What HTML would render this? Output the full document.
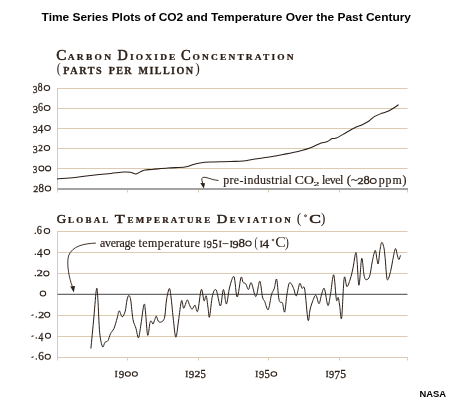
<!DOCTYPE html>
<html><head><meta charset="utf-8"><style>
html,body{margin:0;padding:0;background:#fff;}
body{width:450px;height:400px;overflow:hidden;}
svg{display:block;will-change:transform;}
</style></head><body>
<svg width="450" height="400" viewBox="0 0 450 400">
<rect width="450" height="400" fill="#fff"/>
<line x1="57.5" y1="88.5" x2="407.5" y2="88.5" stroke="#dccab2" stroke-width="1"/>
<line x1="57.5" y1="108.5" x2="407.5" y2="108.5" stroke="#dccab2" stroke-width="1"/>
<line x1="57.5" y1="128.5" x2="407.5" y2="128.5" stroke="#dccab2" stroke-width="1"/>
<line x1="57.5" y1="148.5" x2="407.5" y2="148.5" stroke="#dccab2" stroke-width="1"/>
<line x1="57.5" y1="168.5" x2="407.5" y2="168.5" stroke="#dccab2" stroke-width="1"/>
<line x1="57.5" y1="88" x2="57.5" y2="192.5" stroke="#dccbb0" stroke-width="1"/>
<line x1="57.5" y1="189" x2="408" y2="189" stroke="#a3a3a3" stroke-width="2"/>
<line x1="127.5" y1="190" x2="127.5" y2="192.5" stroke="#dccbb0" stroke-width="1"/>
<line x1="198.5" y1="190" x2="198.5" y2="192.5" stroke="#dccbb0" stroke-width="1"/>
<line x1="268.5" y1="190" x2="268.5" y2="192.5" stroke="#dccbb0" stroke-width="1"/>
<line x1="339.5" y1="190" x2="339.5" y2="192.5" stroke="#dccbb0" stroke-width="1"/>
<line x1="407.5" y1="190" x2="407.5" y2="192.5" stroke="#dccbb0" stroke-width="1"/>
<line x1="57.5" y1="231.5" x2="407.5" y2="231.5" stroke="#dccab2" stroke-width="1"/>
<line x1="57.5" y1="252.5" x2="407.5" y2="252.5" stroke="#dccab2" stroke-width="1"/>
<line x1="57.5" y1="273.5" x2="407.5" y2="273.5" stroke="#dccab2" stroke-width="1"/>
<line x1="57.5" y1="315.5" x2="407.5" y2="315.5" stroke="#dccab2" stroke-width="1"/>
<line x1="57.5" y1="336.5" x2="407.5" y2="336.5" stroke="#dccab2" stroke-width="1"/>
<line x1="57.5" y1="357.5" x2="407.5" y2="357.5" stroke="#dccab2" stroke-width="1"/>
<line x1="57.5" y1="231" x2="57.5" y2="360.5" stroke="#dccbb0" stroke-width="1"/>
<line x1="127.5" y1="357" x2="127.5" y2="360.5" stroke="#dccbb0" stroke-width="1"/>
<line x1="198.5" y1="357" x2="198.5" y2="360.5" stroke="#dccbb0" stroke-width="1"/>
<line x1="268.5" y1="357" x2="268.5" y2="360.5" stroke="#dccbb0" stroke-width="1"/>
<line x1="339.5" y1="357" x2="339.5" y2="360.5" stroke="#dccbb0" stroke-width="1"/>
<line x1="407.5" y1="357" x2="407.5" y2="360.5" stroke="#dccbb0" stroke-width="1"/>
<line x1="57.5" y1="294.35" x2="407.5" y2="294.35" stroke="#6a6a6a" stroke-width="1.2"/>
<path d="M57.0 179.0 C60.0 178.7 68.7 178.1 75.0 177.4 C81.3 176.7 89.0 175.7 95.0 175.0 C101.0 174.3 106.2 173.9 111.0 173.4 C115.8 172.9 120.7 172.2 124.0 172.0 C127.3 171.8 129.0 172.1 131.0 172.4 C133.0 172.7 134.3 174.2 136.0 174.0 C137.7 173.8 139.5 172.1 141.0 171.4 C142.5 170.7 143.2 170.3 145.0 170.0 C146.8 169.7 148.2 169.7 152.0 169.4 C155.8 169.1 162.5 168.4 168.0 168.0 C173.5 167.6 181.0 167.5 185.0 167.0 C189.0 166.5 189.5 165.7 192.0 165.0 C194.5 164.3 197.0 163.5 200.0 163.0 C203.0 162.5 205.0 162.2 210.0 162.0 C215.0 161.8 224.5 161.7 230.0 161.5 C235.5 161.3 238.8 161.4 243.0 161.0 C247.2 160.6 249.7 159.8 255.0 159.0 C260.3 158.2 268.7 157.1 275.0 156.0 C281.3 154.9 287.2 153.9 293.0 152.6 C298.8 151.3 305.4 149.6 310.0 148.0 C314.6 146.4 317.7 144.2 320.5 143.2 C323.3 142.2 324.9 142.6 326.9 141.8 C328.8 141.0 330.6 139.2 332.2 138.6 C333.8 138.0 334.1 139.0 336.4 138.0 C338.7 137.0 342.9 134.4 345.9 132.7 C348.9 131.0 351.5 129.4 354.3 128.0 C357.1 126.6 360.2 125.7 362.7 124.5 C365.1 123.3 367.1 122.3 369.0 121.0 C370.9 119.7 372.2 117.9 374.3 116.6 C376.4 115.3 379.4 114.2 381.7 113.3 C384.0 112.4 385.9 112.3 388.0 111.3 C390.1 110.3 392.6 108.6 394.4 107.5 C396.2 106.4 397.9 105.1 398.6 104.6" fill="none" stroke="#2a1e17" stroke-width="1.05" stroke-linejoin="round"/>
<path d="M90.9 348.5 C91.4 343.2 93.0 326.9 93.9 317.0 C94.8 307.1 95.8 291.9 96.5 289.0 C97.2 286.1 97.4 292.2 97.9 299.5 C98.4 306.8 98.9 324.9 99.7 332.8 C100.5 340.7 101.7 345.2 102.6 346.8 C103.5 348.4 104.0 343.4 104.9 342.4 C105.8 341.4 107.0 342.1 107.9 340.7 C108.8 339.2 109.5 335.8 110.5 333.7 C111.5 331.6 112.9 331.0 114.0 328.4 C115.1 325.8 116.3 320.9 117.2 318.0 C118.1 315.1 118.4 311.0 119.2 310.8 C120.0 310.6 121.2 316.7 122.2 316.8 C123.2 316.9 124.4 314.0 125.2 311.2 C126.0 308.4 126.4 302.6 127.0 300.0 C127.6 297.4 128.2 295.5 128.8 295.5 C129.4 295.5 130.0 296.0 130.7 300.0 C131.4 304.0 132.1 314.8 133.0 319.5 C133.9 324.2 135.1 325.4 136.0 328.5 C136.9 331.6 137.7 338.6 138.5 337.8 C139.3 337.1 140.1 329.6 141.0 324.0 C141.9 318.4 143.2 306.5 144.0 304.5 C144.8 302.5 144.9 306.9 145.5 312.0 C146.1 317.1 146.9 333.4 147.7 335.2 C148.4 336.9 149.4 324.8 150.0 322.5 C150.6 320.2 151.0 321.1 151.5 321.3 C152.0 321.6 152.4 324.3 153.0 324.0 C153.6 323.7 154.2 320.8 154.8 319.5 C155.4 318.2 155.7 315.9 156.3 316.2 C156.9 316.4 157.5 320.0 158.2 321.0 C158.9 322.0 159.6 322.3 160.5 322.2 C161.4 322.1 162.8 321.4 163.5 320.2 C164.2 319.0 164.5 318.4 165.0 315.0 C165.5 311.6 165.8 304.4 166.5 300.0 C167.2 295.6 168.6 289.0 169.3 288.5 C170.1 288.0 170.3 292.1 171.0 297.0 C171.7 301.9 172.4 311.3 173.2 318.0 C174.0 324.7 174.9 336.7 175.8 337.2 C176.7 337.7 177.6 327.1 178.5 321.0 C179.4 314.9 180.6 302.8 181.5 300.7 C182.4 298.6 182.8 308.3 183.7 308.2 C184.6 308.1 186.3 300.6 187.2 300.0 C188.1 299.4 188.5 302.9 189.3 304.5 C190.1 306.1 191.1 309.2 192.0 309.3 C192.9 309.4 194.1 304.9 195.0 305.2 C195.9 305.5 196.6 313.8 197.7 311.2 C198.8 308.6 200.2 291.2 201.3 289.5 C202.4 287.8 203.2 299.6 204.0 300.7 C204.8 301.8 205.5 294.7 206.2 295.8 C206.9 296.9 207.4 304.0 208.0 307.5 C208.6 311.0 208.8 319.0 209.5 317.0 C210.2 315.0 211.4 300.0 212.5 295.5 C213.6 291.0 214.9 288.2 216.2 290.0 C217.5 291.8 219.2 306.1 220.4 306.0 C221.6 305.9 222.4 289.8 223.4 289.5 C224.4 289.2 225.4 304.4 226.4 304.0 C227.4 303.6 228.4 291.6 229.7 287.0 C231.0 282.4 232.8 275.0 234.0 276.7 C235.2 278.4 236.0 296.9 237.2 297.0 C238.4 297.1 240.0 279.9 241.0 277.5 C242.0 275.1 242.2 281.2 243.0 282.3 C243.8 283.4 244.8 282.6 245.7 283.8 C246.6 285.0 247.6 289.7 248.5 289.5 C249.4 289.3 250.1 281.7 251.2 282.7 C252.3 283.7 254.1 293.6 255.0 295.5 C255.9 297.4 256.0 296.7 256.8 294.3 C257.6 291.9 258.9 280.8 259.8 281.2 C260.8 281.6 261.7 293.6 262.5 297.0 C263.3 300.4 263.8 299.4 264.7 301.5 C265.6 303.6 267.1 310.8 268.2 309.7 C269.3 308.6 270.5 298.2 271.5 294.7 C272.5 291.2 273.3 291.3 274.2 288.7 C275.1 286.1 275.9 277.7 276.6 279.2 C277.4 280.7 278.1 293.9 278.7 297.7 C279.3 301.5 279.6 301.3 280.2 302.2 C280.8 303.1 281.8 301.4 282.5 303.0 C283.2 304.6 283.9 313.5 284.7 312.0 C285.4 310.5 286.2 298.8 287.0 294.0 C287.8 289.2 288.4 284.8 289.2 283.2 C289.9 281.6 290.8 283.3 291.5 284.2 C292.2 285.1 292.9 286.8 293.7 288.7 C294.5 290.6 295.4 296.7 296.4 295.8 C297.4 294.9 298.8 284.8 299.7 283.5 C300.6 282.2 301.2 287.4 302.0 288.3 C302.8 289.2 303.7 283.9 304.7 289.2 C305.7 294.5 307.1 316.5 308.0 320.0 C308.9 323.5 309.3 312.8 310.0 310.0 C310.7 307.2 311.0 305.5 312.0 303.0 C313.0 300.5 314.6 295.1 315.8 295.2 C317.0 295.3 318.0 303.9 319.0 303.7 C320.0 303.5 320.8 296.5 321.7 294.0 C322.6 291.5 323.4 286.7 324.4 288.6 C325.4 290.5 326.9 304.7 327.9 305.5 C328.9 306.3 329.6 298.5 330.6 293.4 C331.6 288.3 332.7 273.8 333.7 274.8 C334.7 275.8 335.6 295.8 336.4 299.6 C337.1 303.4 337.7 296.6 338.2 297.5 C338.7 298.4 339.0 301.6 339.6 305.0 C340.2 308.4 340.8 322.5 341.6 318.0 C342.4 313.5 343.3 283.2 344.2 278.0 C345.1 272.8 345.9 286.4 346.9 286.6 C347.9 286.8 349.3 282.1 350.3 279.0 C351.3 275.9 352.1 272.4 353.0 268.0 C353.9 263.6 355.1 253.5 355.8 252.6 C356.5 251.7 356.7 257.1 357.2 262.5 C357.7 267.9 358.2 285.9 359.0 285.2 C359.8 284.5 360.9 260.1 361.7 258.4 C362.5 256.7 363.3 271.4 364.0 275.0 C364.7 278.6 365.2 279.5 366.1 279.7 C367.0 279.9 368.6 279.2 369.6 276.3 C370.6 273.4 371.3 266.3 372.2 262.0 C373.1 257.7 374.4 250.9 375.2 250.4 C376.0 249.9 376.4 256.7 376.9 258.9 C377.4 261.1 377.8 265.1 378.3 263.7 C378.8 262.3 379.3 254.1 379.9 250.6 C380.5 247.1 381.0 243.0 381.7 242.4 C382.4 241.8 383.2 244.7 383.8 247.2 C384.4 249.7 384.5 252.1 385.1 257.5 C385.7 262.9 386.3 277.2 387.2 279.5 C388.1 281.8 389.7 274.5 390.6 271.3 C391.5 268.1 391.9 264.1 392.7 260.3 C393.5 256.5 394.6 249.3 395.4 248.6 C396.2 247.9 396.9 254.2 397.5 256.0 C398.1 257.8 398.4 259.7 398.9 259.6 C399.4 259.5 400.2 256.1 400.5 255.4" fill="none" stroke="#2a1e17" stroke-width="1.0" stroke-linejoin="round"/>
<path d="M218.6 180.5 C213 180 210 178.5 206 177.5 C203 176.8 201.5 177.5 201.8 180 L203 184" fill="none" stroke="#2a1e17" stroke-width="0.9"/>
<path d="M200.3 183 L205 183.3 L203.8 188.6 Z" fill="#2a1e17"/>
<path d="M95.9 243.1 C84 243.5 72 246 68.5 256 C66.5 264 69 278 72.5 287" fill="none" stroke="#2a1e17" stroke-width="0.9"/>
<path d="M70.3 286.5 L75 286 L73.8 292.6 Z" fill="#2a1e17"/>
<text x="41.6" y="20.6" font-family='"Liberation Sans", sans-serif' font-size="11.5" font-weight="bold" text-anchor="start" fill="#000" textLength="369.4" lengthAdjust="spacingAndGlyphs" >Time Series Plots of CO2 and Temperature Over the Past Century</text>
<text x="419.4" y="396.7" font-family='"Liberation Sans", sans-serif' font-size="9.5" font-weight="bold" text-anchor="start" fill="#000" textLength="26.7" lengthAdjust="spacingAndGlyphs" >NASA</text>
<text x="56.37" y="59.76" font-family='"Liberation Serif", serif' font-weight="normal" font-size="13.99" textLength="10.17" lengthAdjust="spacingAndGlyphs" fill="#2a1e17" stroke="#2a1e17" stroke-width="0.5">C</text>
<text transform="translate(67.7 59.7) scale(1.15 1)" font-family='"Liberation Serif", serif' font-weight="bold" fill="#2a1e17" font-size="8.2" textLength="37.65" lengthAdjust="spacing" stroke="#2a1e17" stroke-width="0.25">ARBON</text>
<text x="117.59" y="59.77" font-family='"Liberation Serif", serif' font-weight="normal" font-size="14.01" textLength="10.28" lengthAdjust="spacingAndGlyphs" fill="#2a1e17" stroke="#2a1e17" stroke-width="0.5">D</text>
<text transform="translate(130.0 59.7) scale(1.15 1)" font-family='"Liberation Serif", serif' font-weight="bold" fill="#2a1e17" font-size="8.2" textLength="39.48" lengthAdjust="spacing" stroke="#2a1e17" stroke-width="0.25">IOXIDE</text>
<text x="181.10" y="59.76" font-family='"Liberation Serif", serif' font-weight="normal" font-size="13.99" textLength="9.70" lengthAdjust="spacingAndGlyphs" fill="#2a1e17" stroke="#2a1e17" stroke-width="0.5">C</text>
<text transform="translate(192.6 59.7) scale(1.15 1)" font-family='"Liberation Serif", serif' font-weight="bold" fill="#2a1e17" font-size="8.2" textLength="87.83" lengthAdjust="spacing" stroke="#2a1e17" stroke-width="0.25">ONCENTRATION</text>
<text x="56.67" y="73.49" font-family='"Liberation Serif", serif' font-weight="normal" font-size="13.68" textLength="4.02" lengthAdjust="spacingAndGlyphs" fill="#2a1e17">(</text>
<text transform="translate(63.2 73.9) scale(1.08 1)" font-family='"Liberation Serif", serif' font-weight="bold" fill="#2a1e17" font-size="9.4" textLength="35.65" lengthAdjust="spacing" stroke="#2a1e17" stroke-width="0.25">PARTS</text>
<text transform="translate(108.7 73.9) scale(1.08 1)" font-family='"Liberation Serif", serif' font-weight="bold" fill="#2a1e17" font-size="9.4" textLength="21.30" lengthAdjust="spacing" stroke="#2a1e17" stroke-width="0.25">PER</text>
<text transform="translate(138.5 73.9) scale(1.08 1)" font-family='"Liberation Serif", serif' font-weight="bold" fill="#2a1e17" font-size="9.4" textLength="50.46" lengthAdjust="spacing" stroke="#2a1e17" stroke-width="0.25">MILLION</text>
<text x="195.16" y="73.49" font-family='"Liberation Serif", serif' font-weight="normal" font-size="13.68" textLength="4.54" lengthAdjust="spacingAndGlyphs" fill="#2a1e17">)</text>
<text x="56.66" y="222.77" font-family='"Liberation Serif", serif' font-weight="normal" font-size="12.95" textLength="9.45" lengthAdjust="spacingAndGlyphs" fill="#2a1e17" stroke="#2a1e17" stroke-width="0.5">G</text>
<text transform="translate(68.1 222.7) scale(1.15 1)" font-family='"Liberation Serif", serif' font-weight="bold" fill="#2a1e17" font-size="7.8" textLength="34.96" lengthAdjust="spacing" stroke="#2a1e17" stroke-width="0.25">LOBAL</text>
<text x="114.71" y="222.70" font-family='"Liberation Serif", serif' font-weight="normal" font-size="12.98" textLength="9.97" lengthAdjust="spacingAndGlyphs" fill="#2a1e17" stroke="#2a1e17" stroke-width="0.5">T</text>
<text transform="translate(127.6 222.7) scale(1.15 1)" font-family='"Liberation Serif", serif' font-weight="bold" fill="#2a1e17" font-size="7.8" textLength="71.83" lengthAdjust="spacing" stroke="#2a1e17" stroke-width="0.25">EMPERATURE</text>
<text x="216.78" y="222.67" font-family='"Liberation Serif", serif' font-weight="normal" font-size="12.94" textLength="10.50" lengthAdjust="spacingAndGlyphs" fill="#2a1e17" stroke="#2a1e17" stroke-width="0.5">D</text>
<text transform="translate(229.8 222.7) scale(1.15 1)" font-family='"Liberation Serif", serif' font-weight="bold" fill="#2a1e17" font-size="7.8" textLength="53.04" lengthAdjust="spacing" stroke="#2a1e17" stroke-width="0.25">EVIATION</text>
<text x="296.68" y="223.02" font-family='"Liberation Serif", serif' font-weight="normal" font-size="14.01" textLength="4.67" lengthAdjust="spacingAndGlyphs" fill="#2a1e17">(</text>
<circle cx="305.5" cy="215.8" r="0.95" fill="none" stroke="#2a1e17" stroke-width="0.9"/>
<text x="309.28" y="222.78" font-family='"Liberation Serif", serif' font-weight="normal" font-size="12.20" textLength="11.69" lengthAdjust="spacingAndGlyphs" fill="#2a1e17" stroke="#2a1e17" stroke-width="0.5">C</text>
<text x="320.85" y="223.02" font-family='"Liberation Serif", serif' font-weight="normal" font-size="14.01" textLength="4.67" lengthAdjust="spacingAndGlyphs" fill="#2a1e17">)</text>
<text x="32.75" y="92.69" font-family='"Liberation Serif", serif' font-size="11.31" textLength="4.72" lengthAdjust="spacingAndGlyphs" fill="#2a1e17" stroke="#2a1e17" stroke-width="0.3">3</text>
<text x="37.73" y="91.00" font-family='"Liberation Serif", serif' font-size="12.03" textLength="4.84" lengthAdjust="spacingAndGlyphs" fill="#2a1e17" stroke="#2a1e17" stroke-width="0.3">8</text>
<ellipse cx="46.95" cy="88.00" rx="2.73" ry="2.48" fill="none" stroke="#2a1e17" stroke-width="1.05"/>
<text x="32.69" y="112.69" font-family='"Liberation Serif", serif' font-size="11.31" textLength="5.33" lengthAdjust="spacingAndGlyphs" fill="#2a1e17" stroke="#2a1e17" stroke-width="0.3">3</text>
<text x="37.88" y="111.00" font-family='"Liberation Serif", serif' font-size="12.08" textLength="4.92" lengthAdjust="spacingAndGlyphs" fill="#2a1e17" stroke="#2a1e17" stroke-width="0.3">6</text>
<ellipse cx="47.10" cy="108.00" rx="2.87" ry="2.48" fill="none" stroke="#2a1e17" stroke-width="1.05"/>
<text x="32.73" y="132.69" font-family='"Liberation Serif", serif' font-size="11.31" textLength="4.96" lengthAdjust="spacingAndGlyphs" fill="#2a1e17" stroke="#2a1e17" stroke-width="0.3">3</text>
<text x="37.69" y="132.80" font-family='"Liberation Serif", serif' font-size="11.55" textLength="5.49" lengthAdjust="spacingAndGlyphs" fill="#2a1e17" stroke="#2a1e17" stroke-width="0.3">4</text>
<ellipse cx="47.45" cy="128.00" rx="2.83" ry="2.48" fill="none" stroke="#2a1e17" stroke-width="1.05"/>
<text x="32.73" y="152.69" font-family='"Liberation Serif", serif' font-size="11.31" textLength="4.96" lengthAdjust="spacingAndGlyphs" fill="#2a1e17" stroke="#2a1e17" stroke-width="0.3">3</text>
<text x="38.39" y="151.00" font-family='"Liberation Serif", serif' font-size="8.31" textLength="4.61" lengthAdjust="spacingAndGlyphs" fill="#2a1e17" stroke="#2a1e17" stroke-width="0.3">2</text>
<ellipse cx="46.95" cy="148.00" rx="2.73" ry="2.48" fill="none" stroke="#2a1e17" stroke-width="1.05"/>
<text x="32.76" y="173.09" font-family='"Liberation Serif", serif' font-size="11.31" textLength="4.60" lengthAdjust="spacingAndGlyphs" fill="#2a1e17" stroke="#2a1e17" stroke-width="0.3">3</text>
<ellipse cx="41.40" cy="168.40" rx="2.48" ry="2.48" fill="none" stroke="#2a1e17" stroke-width="1.05"/>
<ellipse cx="48.10" cy="168.40" rx="2.57" ry="2.48" fill="none" stroke="#2a1e17" stroke-width="1.05"/>
<text x="33.25" y="191.50" font-family='"Liberation Serif", serif' font-size="8.31" textLength="5.11" lengthAdjust="spacingAndGlyphs" fill="#2a1e17" stroke="#2a1e17" stroke-width="0.3">2</text>
<text x="38.39" y="191.50" font-family='"Liberation Serif", serif' font-size="12.03" textLength="5.43" lengthAdjust="spacingAndGlyphs" fill="#2a1e17" stroke="#2a1e17" stroke-width="0.3">8</text>
<ellipse cx="47.95" cy="188.50" rx="2.73" ry="2.48" fill="none" stroke="#2a1e17" stroke-width="1.05"/>
<circle cx="35.35" cy="233.20" r="0.8" fill="#2a1e17"/>
<text x="36.86" y="234.00" font-family='"Liberation Serif", serif' font-size="12.08" textLength="5.15" lengthAdjust="spacingAndGlyphs" fill="#2a1e17" stroke="#2a1e17" stroke-width="0.3">6</text>
<ellipse cx="46.95" cy="231.00" rx="2.73" ry="2.48" fill="none" stroke="#2a1e17" stroke-width="1.05"/>
<circle cx="35.35" cy="254.20" r="0.8" fill="#2a1e17"/>
<text x="37.08" y="256.80" font-family='"Liberation Serif", serif' font-size="11.55" textLength="5.59" lengthAdjust="spacingAndGlyphs" fill="#2a1e17" stroke="#2a1e17" stroke-width="0.3">4</text>
<ellipse cx="46.95" cy="252.00" rx="2.73" ry="2.48" fill="none" stroke="#2a1e17" stroke-width="1.05"/>
<circle cx="35.35" cy="275.60" r="0.8" fill="#2a1e17"/>
<text x="36.76" y="276.40" font-family='"Liberation Serif", serif' font-size="8.31" textLength="6.11" lengthAdjust="spacingAndGlyphs" fill="#2a1e17" stroke="#2a1e17" stroke-width="0.3">2</text>
<ellipse cx="46.35" cy="273.40" rx="2.62" ry="2.48" fill="none" stroke="#2a1e17" stroke-width="1.05"/>
<ellipse cx="42.95" cy="293.50" rx="2.73" ry="2.48" fill="none" stroke="#2a1e17" stroke-width="1.05"/>
<line x1="31.50" y1="315.60" x2="33.60" y2="314.80" stroke="#2a1e17" stroke-width="1.1"/>
<circle cx="36.30" cy="317.00" r="0.8" fill="#2a1e17"/>
<text x="38.17" y="317.80" font-family='"Liberation Serif", serif' font-size="8.31" textLength="5.99" lengthAdjust="spacingAndGlyphs" fill="#2a1e17" stroke="#2a1e17" stroke-width="0.3">2</text>
<ellipse cx="47.20" cy="314.80" rx="2.58" ry="2.48" fill="none" stroke="#2a1e17" stroke-width="1.05"/>
<line x1="31.50" y1="336.60" x2="33.60" y2="335.80" stroke="#2a1e17" stroke-width="1.1"/>
<circle cx="36.30" cy="338.00" r="0.8" fill="#2a1e17"/>
<text x="38.51" y="340.60" font-family='"Liberation Serif", serif' font-size="11.55" textLength="4.84" lengthAdjust="spacingAndGlyphs" fill="#2a1e17" stroke="#2a1e17" stroke-width="0.3">4</text>
<ellipse cx="48.00" cy="335.80" rx="2.57" ry="2.48" fill="none" stroke="#2a1e17" stroke-width="1.05"/>
<line x1="31.50" y1="357.60" x2="33.60" y2="356.80" stroke="#2a1e17" stroke-width="1.1"/>
<circle cx="36.30" cy="359.00" r="0.8" fill="#2a1e17"/>
<text x="38.22" y="359.80" font-family='"Liberation Serif", serif' font-size="12.08" textLength="5.62" lengthAdjust="spacingAndGlyphs" fill="#2a1e17" stroke="#2a1e17" stroke-width="0.3">6</text>
<ellipse cx="47.75" cy="356.80" rx="2.63" ry="2.48" fill="none" stroke="#2a1e17" stroke-width="1.05"/>
<text x="114.68" y="376.70" font-family='"Liberation Serif", serif' font-size="7.64" textLength="2.93" lengthAdjust="spacingAndGlyphs" fill="#2a1e17" stroke="#2a1e17" stroke-width="0.3">I</text>
<text x="118.65" y="378.39" font-family='"Liberation Serif", serif' font-size="11.31" textLength="5.51" lengthAdjust="spacingAndGlyphs" fill="#2a1e17" stroke="#2a1e17" stroke-width="0.3">9</text>
<ellipse cx="127.85" cy="374.00" rx="2.52" ry="2.18" fill="none" stroke="#2a1e17" stroke-width="1.05"/>
<ellipse cx="134.85" cy="374.00" rx="2.52" ry="2.18" fill="none" stroke="#2a1e17" stroke-width="1.05"/>
<text x="185.38" y="376.70" font-family='"Liberation Serif", serif' font-size="7.64" textLength="2.93" lengthAdjust="spacingAndGlyphs" fill="#2a1e17" stroke="#2a1e17" stroke-width="0.3">I</text>
<text x="188.65" y="378.39" font-family='"Liberation Serif", serif' font-size="11.31" textLength="5.51" lengthAdjust="spacingAndGlyphs" fill="#2a1e17" stroke="#2a1e17" stroke-width="0.3">9</text>
<text x="194.48" y="376.70" font-family='"Liberation Serif", serif' font-size="7.55" textLength="5.86" lengthAdjust="spacingAndGlyphs" fill="#2a1e17" stroke="#2a1e17" stroke-width="0.3">2</text>
<text x="200.38" y="378.39" font-family='"Liberation Serif", serif' font-size="11.44" textLength="5.34" lengthAdjust="spacingAndGlyphs" fill="#2a1e17" stroke="#2a1e17" stroke-width="0.3">5</text>
<text x="255.38" y="376.70" font-family='"Liberation Serif", serif' font-size="7.64" textLength="2.93" lengthAdjust="spacingAndGlyphs" fill="#2a1e17" stroke="#2a1e17" stroke-width="0.3">I</text>
<text x="258.97" y="378.39" font-family='"Liberation Serif", serif' font-size="11.31" textLength="5.16" lengthAdjust="spacingAndGlyphs" fill="#2a1e17" stroke="#2a1e17" stroke-width="0.3">9</text>
<text x="264.38" y="378.39" font-family='"Liberation Serif", serif' font-size="11.44" textLength="5.34" lengthAdjust="spacingAndGlyphs" fill="#2a1e17" stroke="#2a1e17" stroke-width="0.3">5</text>
<ellipse cx="273.85" cy="374.00" rx="2.83" ry="2.18" fill="none" stroke="#2a1e17" stroke-width="1.05"/>
<text x="325.68" y="376.70" font-family='"Liberation Serif", serif' font-size="7.64" textLength="2.93" lengthAdjust="spacingAndGlyphs" fill="#2a1e17" stroke="#2a1e17" stroke-width="0.3">I</text>
<text x="328.97" y="378.39" font-family='"Liberation Serif", serif' font-size="11.31" textLength="5.16" lengthAdjust="spacingAndGlyphs" fill="#2a1e17" stroke="#2a1e17" stroke-width="0.3">9</text>
<text x="334.24" y="378.50" font-family='"Liberation Serif", serif' font-size="11.61" textLength="5.80" lengthAdjust="spacingAndGlyphs" fill="#2a1e17" stroke="#2a1e17" stroke-width="0.3">7</text>
<text x="340.32" y="378.39" font-family='"Liberation Serif", serif' font-size="11.44" textLength="5.83" lengthAdjust="spacingAndGlyphs" fill="#2a1e17" stroke="#2a1e17" stroke-width="0.3">5</text>
<text x="357.45" y="184.00" font-family='"Liberation Serif", serif' font-size="8.31" textLength="6.24" lengthAdjust="spacingAndGlyphs" fill="#2a1e17" stroke="#2a1e17" stroke-width="0.3">2</text>
<text x="363.52" y="184.00" font-family='"Liberation Serif", serif' font-size="12.03" textLength="6.25" lengthAdjust="spacingAndGlyphs" fill="#2a1e17" stroke="#2a1e17" stroke-width="0.3">8</text>
<ellipse cx="373.25" cy="181.00" rx="2.93" ry="2.48" fill="none" stroke="#2a1e17" stroke-width="1.05"/>
<text x="203.42" y="246.50" font-family='"Liberation Serif", serif' font-size="8.40" textLength="2.54" lengthAdjust="spacingAndGlyphs" fill="#2a1e17" stroke="#2a1e17" stroke-width="0.3">I</text>
<text x="206.68" y="248.19" font-family='"Liberation Serif", serif' font-size="11.31" textLength="5.04" lengthAdjust="spacingAndGlyphs" fill="#2a1e17" stroke="#2a1e17" stroke-width="0.3">9</text>
<text x="212.35" y="248.19" font-family='"Liberation Serif", serif' font-size="11.44" textLength="5.59" lengthAdjust="spacingAndGlyphs" fill="#2a1e17" stroke="#2a1e17" stroke-width="0.3">5</text>
<text x="218.65" y="246.50" font-family='"Liberation Serif", serif' font-size="8.40" textLength="3.18" lengthAdjust="spacingAndGlyphs" fill="#2a1e17" stroke="#2a1e17" stroke-width="0.3">I</text>
<line x1="222.50" y1="243.60" x2="228.50" y2="243.60" stroke="#2a1e17" stroke-width="0.8"/>
<text x="229.65" y="246.50" font-family='"Liberation Serif", serif' font-size="8.40" textLength="3.18" lengthAdjust="spacingAndGlyphs" fill="#2a1e17" stroke="#2a1e17" stroke-width="0.3">I</text>
<text x="232.41" y="248.19" font-family='"Liberation Serif", serif' font-size="11.31" textLength="6.09" lengthAdjust="spacingAndGlyphs" fill="#2a1e17" stroke="#2a1e17" stroke-width="0.3">9</text>
<text x="238.51" y="246.50" font-family='"Liberation Serif", serif' font-size="12.03" textLength="6.49" lengthAdjust="spacingAndGlyphs" fill="#2a1e17" stroke="#2a1e17" stroke-width="0.3">8</text>
<ellipse cx="248.50" cy="243.50" rx="2.68" ry="2.48" fill="none" stroke="#2a1e17" stroke-width="1.05"/>
<text x="259.65" y="246.50" font-family='"Liberation Serif", serif' font-size="8.40" textLength="3.18" lengthAdjust="spacingAndGlyphs" fill="#2a1e17" stroke="#2a1e17" stroke-width="0.3">I</text>
<text x="262.54" y="248.30" font-family='"Liberation Serif", serif' font-size="11.55" textLength="6.67" lengthAdjust="spacingAndGlyphs" fill="#2a1e17" stroke="#2a1e17" stroke-width="0.3">4</text>
<text x="223.18" y="184" font-family='"Liberation Serif", serif' font-weight="normal" font-size="11.9" textLength="68.63" lengthAdjust="spacing" fill="#2a1e17" stroke="#2a1e17" stroke-width="0.2">pre-industrial</text>
<text x="294.76" y="184" font-family='"Liberation Serif", serif' font-weight="normal" font-size="11.9" textLength="19.06" lengthAdjust="spacingAndGlyphs" fill="#2a1e17" stroke="#2a1e17" stroke-width="0.2">CO</text>
<text x="313.48" y="186.20" font-family='"Liberation Serif", serif' font-weight="normal" font-size="5.74" textLength="5.86" lengthAdjust="spacingAndGlyphs" fill="#2a1e17" stroke="#2a1e17" stroke-width="0.2">2</text>
<text x="322.07" y="184" font-family='"Liberation Serif", serif' font-weight="normal" font-size="11.9" textLength="21.22" lengthAdjust="spacing" fill="#2a1e17" stroke="#2a1e17" stroke-width="0.2">level</text>
<text x="346.68" y="184" font-family='"Liberation Serif", serif' font-weight="normal" font-size="11.9" textLength="11.36" lengthAdjust="spacingAndGlyphs" fill="#2a1e17" stroke="#2a1e17" stroke-width="0.2">(~</text>
<text x="378.79" y="184" font-family='"Liberation Serif", serif' font-weight="normal" font-size="11.9" textLength="27.65" lengthAdjust="spacing" fill="#2a1e17" stroke="#2a1e17" stroke-width="0.2">ppm)</text>
<text x="100.00" y="246.5" font-family='"Liberation Serif", serif' font-weight="normal" font-size="11.9" textLength="35.62" lengthAdjust="spacing" fill="#2a1e17" stroke="#2a1e17" stroke-width="0.2">average</text>
<text x="138.59" y="246.5" font-family='"Liberation Serif", serif' font-weight="normal" font-size="11.9" textLength="61.41" lengthAdjust="spacing" fill="#2a1e17" stroke="#2a1e17" stroke-width="0.2">temperature</text>
<text x="254.57" y="246.95" font-family='"Liberation Serif", serif' font-weight="normal" font-size="14.34" textLength="3.24" lengthAdjust="spacingAndGlyphs" fill="#2a1e17">(</text>
<circle cx="273" cy="240" r="0.85" fill="none" stroke="#2a1e17" stroke-width="0.8"/>
<text x="275.35" y="246.57" font-family='"Liberation Serif", serif' font-weight="normal" font-size="13.69" textLength="10.52" lengthAdjust="spacingAndGlyphs" fill="#2a1e17">C</text>
<text x="285.12" y="246.95" font-family='"Liberation Serif", serif' font-weight="normal" font-size="14.34" textLength="3.89" lengthAdjust="spacingAndGlyphs" fill="#2a1e17">)</text>
</svg>
</body></html>
